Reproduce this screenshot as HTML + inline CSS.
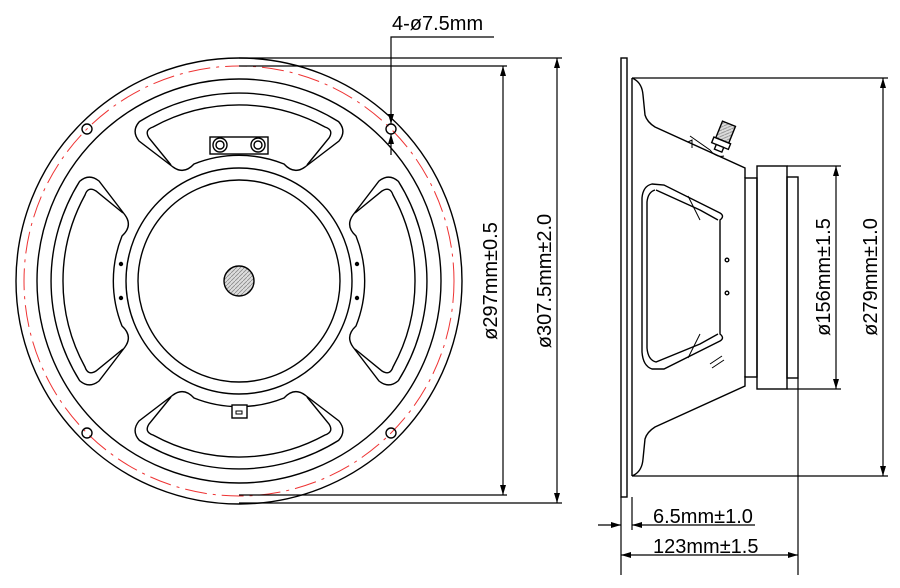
<!DOCTYPE html>
<html><head><meta charset="utf-8"><style>
html,body{margin:0;padding:0;background:#fff;}
svg{display:block;}
text{font-family:"Liberation Sans",sans-serif;fill:#000;}
</style></head><body>
<svg width="900" height="588" viewBox="0 0 900 588" xmlns="http://www.w3.org/2000/svg">
<defs>
<marker id="ar" viewBox="0 0 10 6" refX="10" refY="3" markerWidth="10" markerHeight="6" orient="auto-start-reverse" markerUnits="userSpaceOnUse"><path d="M0,0 L10,3 L0,6 Z" fill="#000"/></marker>
<pattern id="hatch" width="4" height="4" patternUnits="userSpaceOnUse"><rect width="4" height="4" fill="#ddd"/><path d="M0,4 L4,0" stroke="#888" stroke-width="0.8"/></pattern>
</defs>
<g fill="none" stroke="#000" stroke-width="1.4">
<!-- front view -->
<g transform="translate(239,281)">
<circle r="223"/>
<circle r="215" stroke="#e33" stroke-width="1" stroke-dasharray="22,6,3,6"/>
<circle r="202"/>
<circle r="113"/>
<circle r="101"/>
<circle r="15" fill="url(#hatch)"/>
<g id="win">
<path d="M-99.6,-159.4 A188,188 0 0 1 99.6,-159.4 Q108,-150 100,-140 L66,-114 Q55,-106 45,-117 A121,121 0 0 0 -45,-117 Q-55,-106 -66,-114 L-100,-140 Q-108,-150 -99.6,-159.4 Z"/>
<path d="M-68,-116 L-90,-143 Q-95,-151 -86,-154 A179,179 0 0 1 86,-154 Q95,-151 90,-143 L68,-116"/>
</g>
<use href="#win" transform="rotate(90)"/>
<use href="#win" transform="rotate(180)"/>
<use href="#win" transform="rotate(-90)"/>
</g>
<rect x="210" y="137" width="58" height="17" fill="#fff"/>
<circle cx="220" cy="145" r="7"/><circle cx="220" cy="145" r="4"/>
<circle cx="258" cy="145" r="7"/><circle cx="258" cy="145" r="4"/>
<rect x="232" y="405" width="15" height="13" fill="#fff"/>
<rect x="236" y="411" width="6" height="3" stroke-width="1"/>
<circle cx="121" cy="264" r="1.5" fill="#000"/><circle cx="121" cy="298" r="1.5" fill="#000"/>
<circle cx="357" cy="264" r="1.5" fill="#000"/><circle cx="357" cy="298" r="1.5" fill="#000"/>
<circle cx="87" cy="129" r="5"/><circle cx="391" cy="129" r="5"/>
<circle cx="87" cy="433" r="5"/><circle cx="391" cy="433" r="5"/>
<!-- front dims -->
<g stroke-width="1.2">
<line x1="239" y1="58" x2="562" y2="58"/><line x1="239" y1="66" x2="507" y2="66"/>
<line x1="239" y1="503" x2="562" y2="503"/><line x1="239" y1="495" x2="507" y2="495"/>
<line x1="503" y1="66" x2="503" y2="495" marker-start="url(#ar)" marker-end="url(#ar)"/>
<line x1="557" y1="58" x2="557" y2="503" marker-start="url(#ar)" marker-end="url(#ar)"/>
<polyline points="494,37 391,37 391,124" marker-end="url(#ar)"/>
<line x1="391" y1="155" x2="391" y2="134" marker-end="url(#ar)"/>
</g>
<!-- side view -->
<rect x="621" y="58" width="6" height="439"/>
<line x1="632" y1="78" x2="632" y2="476"/>
<path d="M632,78 Q642,82 643,95 L645,115 Q647,122 655,127 L745,168 L745,178"/>
<path d="M632,476 Q642,472 643,459 L645,439 Q647,432 655,427 L745,386 L745,376"/>
<rect x="745" y="178" width="12" height="199"/>
<rect x="757" y="166" width="30" height="223"/>
<rect x="787" y="177" width="11" height="201"/>
<path d="M652,184 Q643,186 642,198 L642,352 Q643,366 652,369 L664,369 L720,341 Q725,338 720,334 L720,220 Q725,216 720,213 L664,185 Z"/>
<path d="M655,190 Q648,192 647,202 L647,348 Q648,360 656,362 L700,344 L718,334 M700,210 L718,220 M656,190 L700,210"/>
<path d="M688,196 L700,220 M688,358 L700,334" stroke-width="1"/>
<circle cx="727" cy="260" r="1.8"/><circle cx="727" cy="293" r="1.8"/>
<path d="M688,142 L692,140 L692,148" stroke-width="1"/>
<path d="M710,364 L722,356 M712,368 L724,360" stroke-width="1"/>
<g transform="translate(720,146) rotate(22)">
<rect x="-7" y="-24" width="14" height="18" fill="url(#hatch)"/>
<rect x="-9" y="-6" width="18" height="6" fill="#fff"/>
<rect x="-4" y="0" width="8" height="5" fill="#fff"/>
</g>
<path d="M690,136 L710,150 Q716,158 724,156" stroke-width="1"/>
<!-- side dims -->
<g stroke-width="1.2">
<line x1="632" y1="78" x2="888" y2="78"/><line x1="632" y1="476" x2="888" y2="476"/>
<line x1="883" y1="78" x2="883" y2="476" marker-start="url(#ar)" marker-end="url(#ar)"/>
<line x1="787" y1="166" x2="841" y2="166"/><line x1="787" y1="389" x2="841" y2="389"/>
<line x1="836" y1="166" x2="836" y2="389" marker-start="url(#ar)" marker-end="url(#ar)"/>
<line x1="621" y1="497" x2="621" y2="575"/><line x1="632" y1="497" x2="632" y2="530"/>
<line x1="798" y1="378" x2="798" y2="575"/>
<line x1="598" y1="525" x2="621" y2="525" marker-end="url(#ar)"/>
<line x1="755" y1="525" x2="632" y2="525" marker-end="url(#ar)"/>
<line x1="621" y1="555" x2="798" y2="555" marker-start="url(#ar)" marker-end="url(#ar)"/>
</g>
</g>
<text x="392" y="30" font-size="20">4-ø7.5mm</text>
<text transform="translate(497,281) rotate(-90)" text-anchor="middle" font-size="20">ø297mm±0.5</text>
<text transform="translate(551,281) rotate(-90)" text-anchor="middle" font-size="20">ø307.5mm±2.0</text>
<text transform="translate(830,277) rotate(-90)" text-anchor="middle" font-size="20">ø156mm±1.5</text>
<text transform="translate(877,277) rotate(-90)" text-anchor="middle" font-size="20">ø279mm±1.0</text>
<text x="653" y="523" font-size="20">6.5mm±1.0</text>
<text x="653" y="553" font-size="20">123mm±1.5</text>
</svg>
</body></html>
